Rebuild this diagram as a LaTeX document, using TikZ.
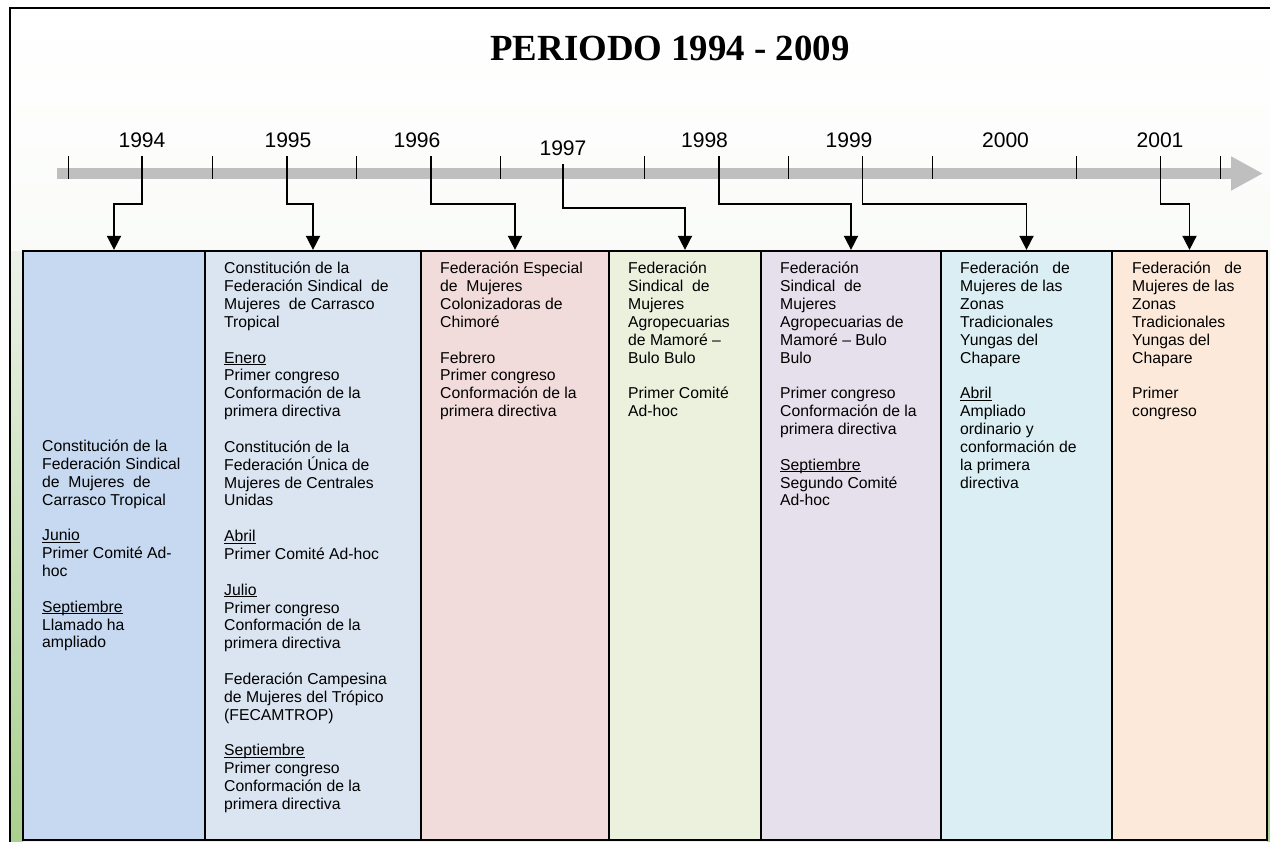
\documentclass[tikz,border=0pt]{standalone}
\usepackage{fontspec}
\setmainfont{Liberation Serif}
\setsansfont{Liberation Sans}
\usepackage{tikz}
\usetikzlibrary{arrows.meta, fit, positioning}
\definecolor{barGray}{HTML}{BFBFBF}
\definecolor{colA}{HTML}{C6D9F0}
\definecolor{colB}{HTML}{DBE5F1}
\definecolor{colC}{HTML}{F2DCDB}
\definecolor{colD}{HTML}{EBF1DD}
\definecolor{colE}{HTML}{E5E0EC}
\definecolor{colF}{HTML}{DBEEF3}
\definecolor{colG}{HTML}{FDE9D9}
\definecolor{bgLow}{HTML}{ECF2E9}
\definecolor{bgGreen}{HTML}{A9D08E}
% month names, underlined just below the baseline
\newcommand{\mes}[1]{\setbox0\hbox{#1}\rlap{\rule[-1.5pt]{\wd0}{0.6pt}}\box0}
\tikzset{
    colbox/.style={
        draw, line width=1.6pt,
        inner sep=0pt
    },
    txt/.style={
        anchor=north west, align=left,
        inner sep=0pt,
        font=\sffamily\fontsize{11.2}{12.7}\selectfont
    },
    yr/.style={
        anchor=base, inner sep=0pt,
        font=\sffamily\fontsize{15}{18}\selectfont
    },
    tickline/.style={line width=1pt},
    conn/.style={
        line width=1.2pt,
        -{Triangle[length=10pt, width=10pt]},
    },
}

\begin{document}
\begin{tikzpicture}[x=0.025cm, y=-0.025cm]
        \useasboundingbox (0,0) rectangle (1270,842);
        % background and frame
        \shade[top color=white, bottom color=bgLow] (10,8) rectangle (1300,870);
        \shade[top color=bgLow, bottom color=bgGreen] (11,251) rectangle (23,842);
        \shade[top color=bgLow, bottom color=bgGreen] (1267,251) rectangle (1300,842);
        \draw[line width=1.4pt] (1300,8) -- (10,8) -- (10,870);

        \node[anchor=base, font=\bfseries\fontsize{26.2}{30}\selectfont] (title) at (670,60) {PERIODO 1994 - 2009};

        % time axis
        \draw[barGray, line width=7.8pt, -{Triangle[length=22.7pt, width=22.7pt]}] (57,173.5) -- (1263,173.5);
        \foreach \k in {0,...,8}
            \draw[tickline] ({68.6+144*\k},156) -- ({68.6+144*\k},179);

        \foreach \y/\x/\top in {1994/142/156, 1995/287/156, 1996/431/156, 1997/563/164,
                               1998/719/156, 1999/862.5/156, 2001/1160.5/156} {
            \draw[tickline] (\x,\top) -- (\x,179);
            \coordinate (t\y) at (\x,179);
        }

        \foreach \y/\x/\b in {1994/142/147, 1995/288/147, 1996/417/147, 1997/563/155,
                             1998/704.5/147, 1999/849/147, 2000/1005.5/147, 2001/1160/147}
            \node[yr] (y\y) at (\x,\b) {\y};

        % columns
        \foreach \n/\xa/\xb/\cl in {1/23/205/colA, 2/205/421/colB, 3/421/609/colC, 4/609/761/colD,
                                  5/761/941/colE, 6/941/1112/colF, 7/1112/1267/colG}
            \node[colbox, fill=\cl, fit={(\xa,251) (\xb,840)}] (col\n) {};

        % connectors
        \foreach \y/\n in {1994/1, 1995/2, 1996/3, 1998/5, 1999/6, 2001/7}
            \draw[conn] (t\y) -- ++(0,25) -| (col\n.north);
        \draw[conn] (t1997) -- ++(0,28.7) -| (col4.north);

        % texts
        \node[txt, anchor=west] (txt1) at ([shift={(20,0)}]col1.west) {Constitución de la\\
            Federación Sindical\\ de\ \ Mujeres\ \ de\\ Carrasco Tropical\\[12.7pt]
            \mes{Junio}\\ Primer Comité Ad-\\ hoc\\[12.7pt]
            \mes{Septiembre}\\ Llamado ha\\ ampliado};

        \node[txt] (txt2) at ([shift={(20,12)}]col2.north west) {Constitución de la\\
            Federación Sindical\ \ de\\ Mujeres\ \ de Carrasco\\ Tropical\\[12.7pt]
            \mes{Enero}\\ Primer congreso\\ Conformación de la\\ primera directiva\\[12.7pt]
            Constitución de la\\ Federación Única de\\ Mujeres de Centrales\\ Unidas\\[12.7pt]
            \mes{Abril}\\ Primer Comité Ad-hoc\\[12.7pt]
            \mes{Julio}\\ Primer congreso\\ Conformación de la\\ primera directiva\\[12.7pt]
            Federación Campesina\\ de Mujeres del Trópico\\ (FECAMTROP)\\[12.7pt]
            \mes{Septiembre}\\ Primer congreso\\ Conformación de la\\ primera directiva};

        \node[txt] (txt3) at ([shift={(20,12)}]col3.north west) {Federación Especial\\
            de\ \ Mujeres\\ Colonizadoras de\\ Chimoré\\[12.7pt]
            Febrero\\ Primer congreso\\ Conformación de la\\ primera directiva};

        \node[txt] (txt4) at ([shift={(20,12)}]col4.north west) {Federación\\
            Sindical\ \ de\\ Mujeres\\ Agropecuarias\\ de Mamoré –\\ Bulo Bulo\\[12.7pt]
            Primer Comité\\ Ad-hoc};

        \node[txt] (txt5) at ([shift={(20,12)}]col5.north west) {Federación\\
            Sindical\ \ de\\ Mujeres\\ Agropecuarias de\\ Mamoré – Bulo\\ Bulo\\[12.7pt]
            Primer congreso\\ Conformación de la\\ primera directiva\\[12.7pt]
            \mes{Septiembre}\\ Segundo Comité\\ Ad-hoc};

        \node[txt] (txt6) at ([shift={(20,12)}]col6.north west) {Federación\hspace{0.85em}de\\
            Mujeres de las\\ Zonas\\ Tradicionales\\ Yungas del\\ Chapare\\[12.7pt]
            \mes{Abril}\\ Ampliado\\ ordinario y\\ conformación de\\ la primera\\ directiva};

        \node[txt] (txt7) at ([shift={(21,12)}]col7.north west) {Federación\hspace{0.85em}de\\
            Mujeres de las\\ Zonas\\ Tradicionales\\ Yungas del\\ Chapare\\[12.7pt]
            Primer\\ congreso};
\end{tikzpicture}
\end{document}
